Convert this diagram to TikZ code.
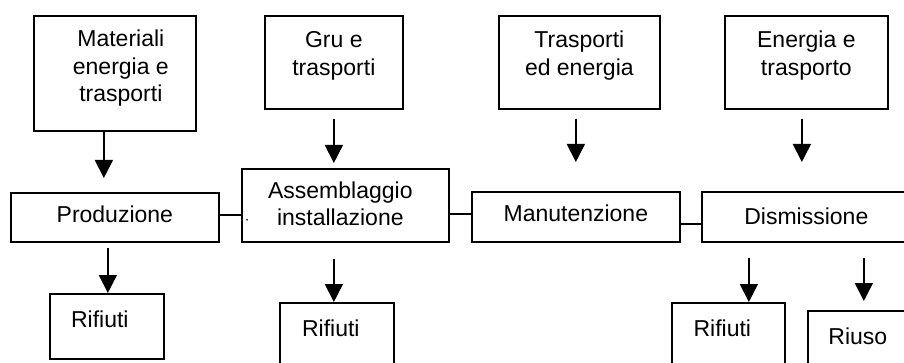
\documentclass[tikz,border=0pt]{standalone}
\usepackage{fontspec}
\setmainfont{Liberation Sans}
\usetikzlibrary{arrows.meta}

\begin{document}
\begin{tikzpicture}[x=1pt,y=-1pt,
        box/.style={draw, line width=1.7pt, inner sep=0pt, anchor=north west},
        txt/.style={font=\fontsize{23}{27.5}\selectfont, align=center,
                        inner sep=0pt, anchor=base},
        arr/.style={line width=1.6pt, -{Triangle[width=18pt,length=18pt]}},
        lnk/.style={line width=1.6pt}]
    \useasboundingbox (0,0) rectangle (904,363);
    \clip (0,0) rectangle (904,363);

    % top row: inputs
    \node[box, minimum width=162pt, minimum height=115pt,
        label={[txt, xshift=6pt, yshift=-87pt]north:Materiali\\energia e\\trasporti}]
        (mat) at (33,15) {};
    \node[box, minimum width=138pt, minimum height=93pt,
        label={[txt, yshift=-60.5pt]north:Gru e\\trasporti}] (gru) at (264,15) {};
    \node[box, minimum width=161pt, minimum height=93pt,
        label={[txt, yshift=-60.5pt]north:Trasporti\\ed energia}] (tre) at (498,15) {};
    \node[box, minimum width=163pt, minimum height=93pt,
        label={[txt, yshift=-60.5pt]north:Energia e\\trasporto}] (ene) at (724,15) {};

    % middle row: phases
    \node[box, minimum width=208pt, minimum height=49pt,
        label={[txt, yshift=-31pt]north:Produzione}] (pro) at (10,192) {};
    \node[box, minimum width=207pt, minimum height=73pt,
        label={[txt, xshift=-5pt, yshift=-58pt]north:Assemblaggio\\installazione}]
        (ass) at (241,168) {};
    \node[box, minimum width=208pt, minimum height=50pt,
        label={[txt, yshift=-31pt]north:Manutenzione}] (man) at (471,191) {};
    \node[box, minimum width=209pt, minimum height=50pt,
        label={[txt, yshift=-34pt]north:Dismissione}] (dis) at (701,191) {};

    % bottom row: outputs
    \node[box, minimum width=114pt, minimum height=65pt,
        label={[txt, xshift=-7pt, yshift=-34pt]north:Rifiuti}] (rif1) at (49,293) {};
    \node[box, minimum width=114pt, minimum height=65pt,
        label={[txt, xshift=-6pt, yshift=-34pt]north:Rifiuti}] (rif2) at (279,302) {};
    \node[box, minimum width=113pt, minimum height=65pt,
        label={[txt, xshift=-6pt, yshift=-34pt]north:Rifiuti}] (rif3) at (671,302) {};
    \node[box, minimum width=100pt, minimum height=65pt,
        label={[txt, yshift=-34pt]north:Riuso}] (riu) at (807,310) {};

    % arrows down into the phases
    \draw[arr] ([xshift=-11pt]mat.south) coordinate (a1)
        -- ([yshift=14pt]a1 |- pro.north);
    \draw[arr] ([yshift=-9pt]gru.south) coordinate (a2)
        -- ([yshift=5pt]a2 |- ass.north);
    \draw[arr] ([xshift=-3.5pt,yshift=-9pt]tre.south) coordinate (a3)
        -- ([yshift=29pt]a3 |- man.north);
    \draw[arr] ([xshift=-4.5pt,yshift=-9pt]ene.south) coordinate (a4)
        -- ([yshift=29pt]a4 |- dis.north);

    % links between phases
    \draw[lnk] ([yshift=2.5pt]pro.east) -- ([yshift=2.5pt]pro.east -| ass.west);
    \draw[lnk] ([yshift=3pt]man.west -| ass.east) -- ([yshift=3pt]man.west);
    \draw[lnk] ([yshift=-7pt]man.east) -- ([yshift=-7pt]dis.west);
    \fill ([xshift=6pt,yshift=-14.5pt]ass.west) circle (0.9pt);

    % arrows down to the outputs
    \draw[arr] ([xshift=-7pt,yshift=-5pt]pro.south) coordinate (b1)
        -- (b1 |- rif1.north);
    \draw[arr] ([xshift=-11.5pt,yshift=-16pt]ass.south) coordinate (b2)
        -- (b2 |- rif2.north);
    \draw[arr] ([xshift=-57.5pt,yshift=-15pt]dis.south) coordinate (b3)
        -- (b3 |- rif3.north);
    \draw[arr] ([xshift=57.5pt,yshift=-15pt]dis.south) coordinate (b4)
        -- ([yshift=9pt]b4 |- riu.north);
\end{tikzpicture}
\end{document}
